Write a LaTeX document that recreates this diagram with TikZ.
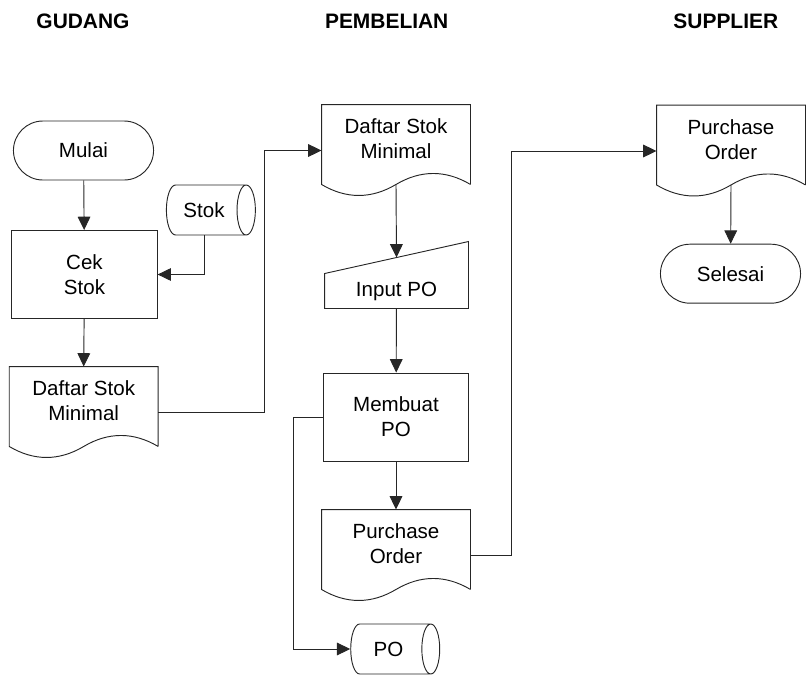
\documentclass[tikz,border=0pt]{standalone}
\usepackage{fontspec}
\setmainfont{Liberation Sans}
\usetikzlibrary{shapes.geometric, shapes.misc, arrows.meta, positioning, calc}
\tikzstyle{terminator} = [rounded rectangle, minimum width=111.75pt, minimum height=44.25pt, text centered, draw=black!85]
\tikzstyle{process} = [rectangle, minimum width=109pt, minimum height=66pt, align=center, draw=black!85]
\tikzstyle{datastore} = [cylinder, shape border rotate=0, aspect=0.9, minimum height=66.75pt, minimum width=37.5pt, inner sep=2pt, draw=black!85]
\tikzstyle{docshape} = [rectangle, minimum width=111pt, minimum height=68.25pt, align=center, text height=30pt, text depth=17.45pt,
  append after command={\pgfextra{\draw[draw=black!85] ([yshift=9pt]\tikzlastnode.south east) -- (\tikzlastnode.north east) -- (\tikzlastnode.north west) -- ([yshift=9pt]\tikzlastnode.south west)
    .. controls +(18.5pt,-11pt) and +(-18.5pt,-11pt) .. ([yshift=9pt]\tikzlastnode.south)
    .. controls +(18.5pt,11pt) and +(-18.5pt,11pt) .. ([yshift=9pt]\tikzlastnode.south east);}}]
\tikzstyle{manualinput} = [rectangle, minimum width=107.25pt, minimum height=25.5pt,
  append after command={\pgfextra{\draw[draw=black!85] (\tikzlastnode.north west) -- ([yshift=24pt]\tikzlastnode.north east) -- (\tikzlastnode.south east) -- (\tikzlastnode.south west) -- cycle;}}]
\tikzstyle{header} = [font=\fontsize{15.7}{18.75}\selectfont\bfseries]
\tikzstyle{line} = [draw=black!85, -{Triangle[length=10pt,width=9.5pt]}]

\begin{document}
\begin{tikzpicture}[x=0.75pt, y=-0.75pt, line width=0.7pt, font=\fontsize{15.4}{18.75}\selectfont]
\useasboundingbox (0,0) rectangle (811,675);

% Kolom
\node (hgudang) [header] at (83,21.7) {GUDANG};
\node (hpembelian) [header] at (386.7,21.7) {PEMBELIAN};
\node (hsupplier) [header] at (725.8,21.7) {SUPPLIER};

% Gudang
\node (mulai) [terminator] at (83.5,150.5) {Mulai};
\node (cekstok) [process] at (84.5,274.5) {Cek\\Stok};
\node (stok) [datastore] at (204,210) {Stok};
\node (dsmgudang) [docshape] at (83.7,412.5) {Daftar Stok\\Minimal};

% Pembelian
\node (dsmbeli) [docshape] at (396,150.5) {Daftar Stok\\Minimal};
\node (inputpo) [manualinput] at (396.5,291) {Input PO};
\node (buatpo) [process] at (396,417) {Membuat\\PO};
\node (pobeli) [docshape] at (396,555.5) {Purchase\\Order};
\node (arsippo) [datastore] at (388.5,649) {PO};

% Supplier
\node (posupplier) [docshape] at (731,151) {Purchase\\Order};
\node (selesai) [terminator] at (730.5,273.7) {Selesai};

% Connections
\draw [line] (mulai) -- (cekstok);
\draw [line] (stok.south) |- (cekstok.east);
\draw [line] (cekstok) -- (dsmgudang.north);
\draw [line] (dsmgudang.east) -- ++(106,0) |- (dsmbeli.west);
\draw [line] ([yshift=9pt]dsmbeli.south) -- ([yshift=12pt]inputpo.north);
\draw [line] (inputpo) -- (buatpo);
\draw [line] (buatpo) -- (pobeli.north);
\draw [line] (buatpo.west) -- ++(-29,0) |- (arsippo.west);
\draw [line] (pobeli.east) -- ++(41,0) |- (posupplier.west);
\draw [line] ([yshift=9pt]posupplier.south) -- (selesai);

\end{tikzpicture}
\end{document}
